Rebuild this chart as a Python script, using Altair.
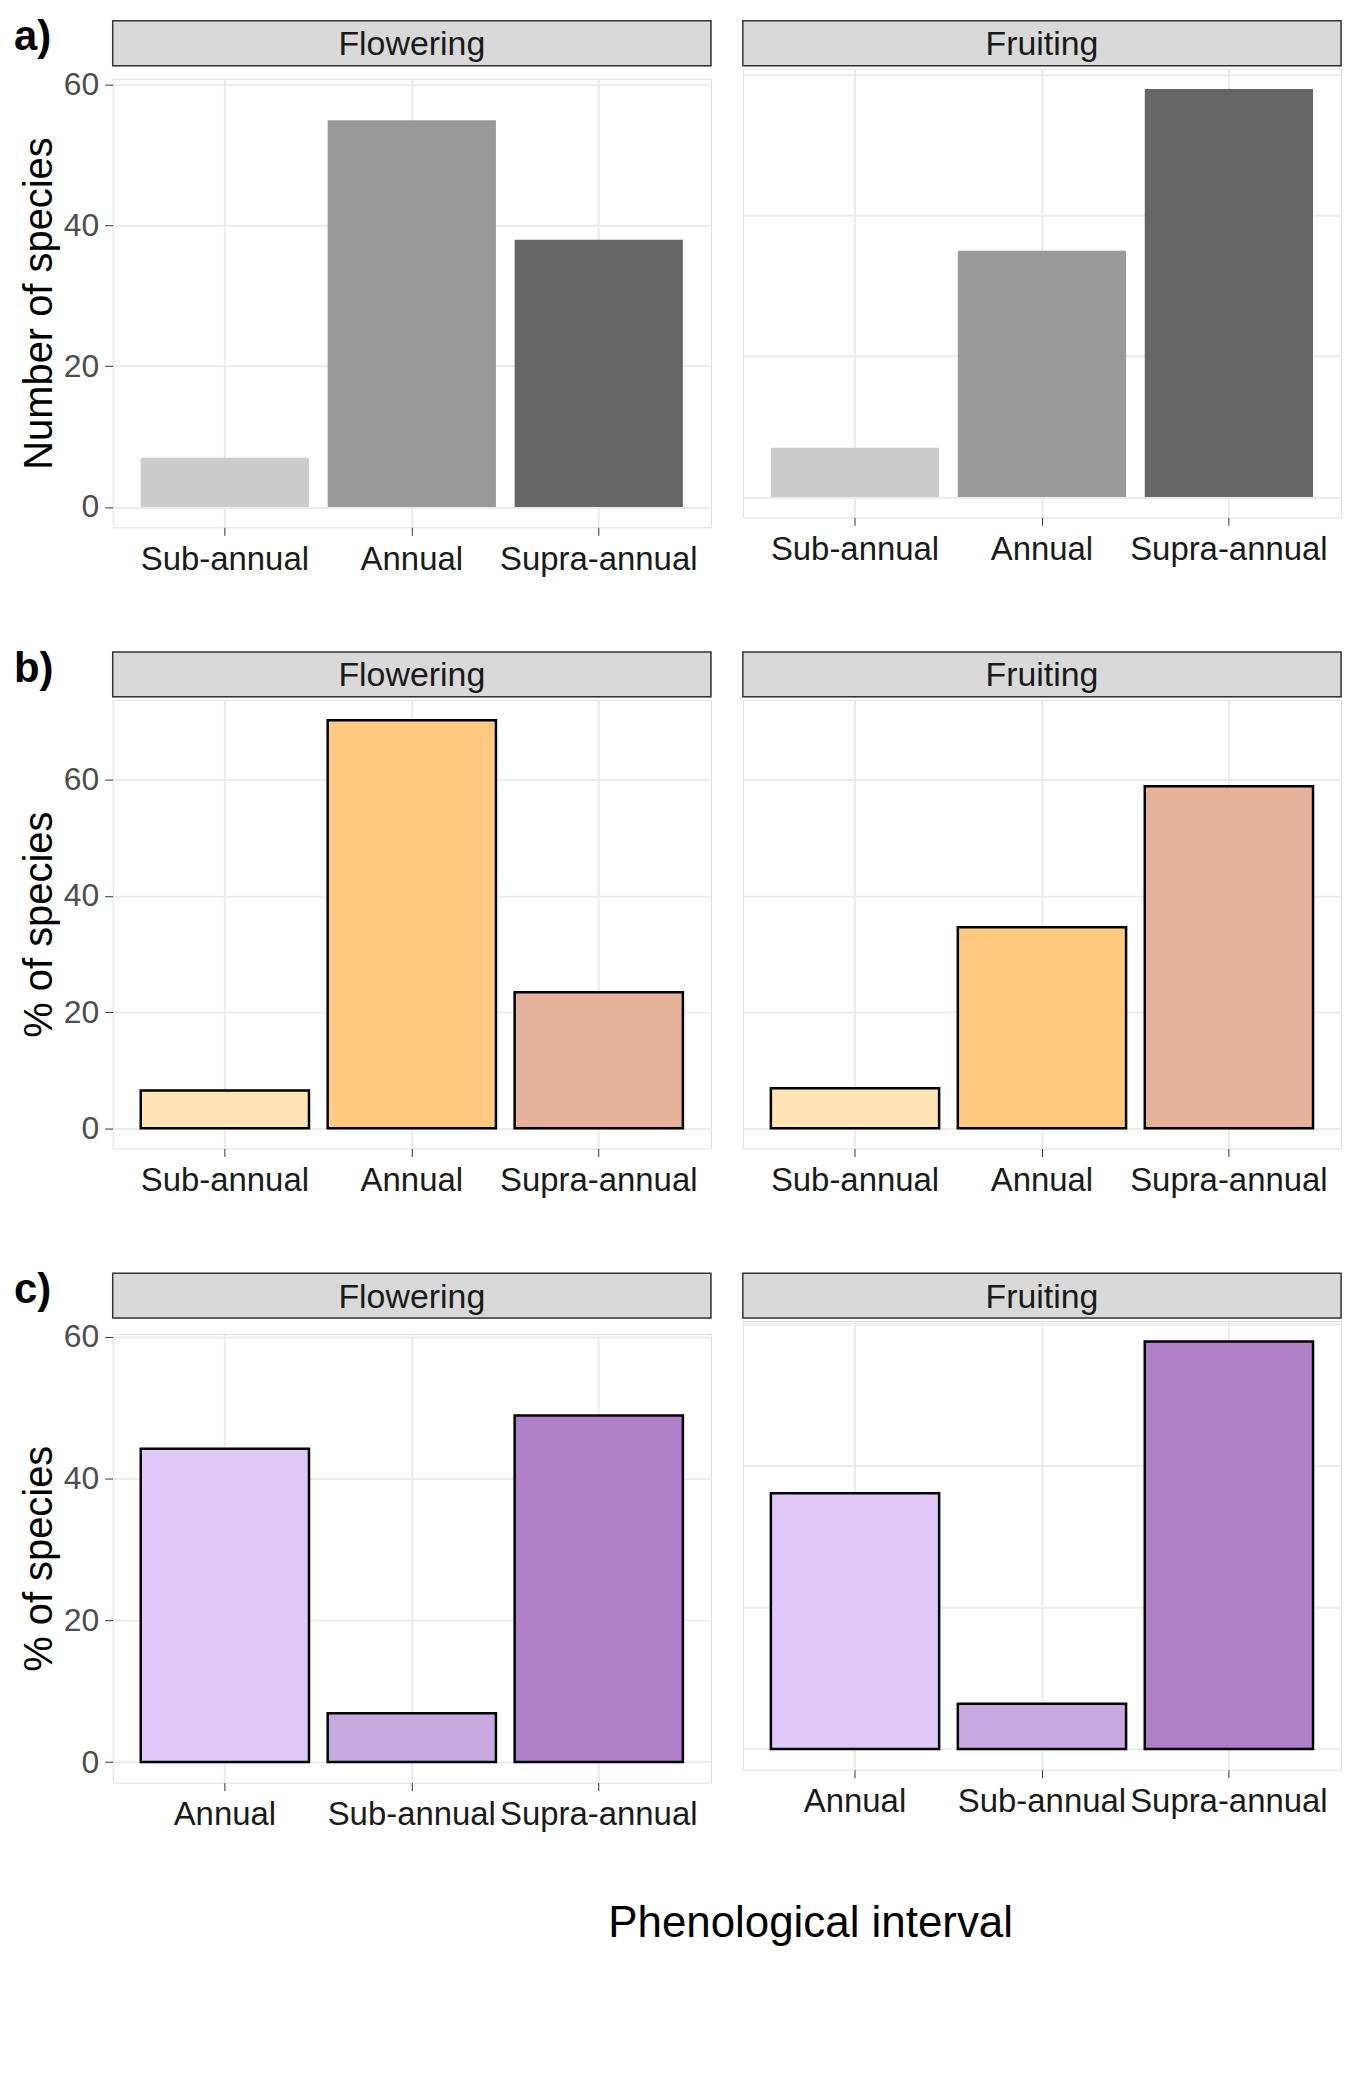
import pandas as pd
import altair as alt

intervals_ab = ['Sub-annual', 'Annual', 'Supra-annual']
intervals_c = ['Annual', 'Sub-annual', 'Supra-annual']

# panel a: number of species
a_flowering = [7, 55, 38]
a_fruiting = [7, 35, 58]
# panel b: % of species
b_flowering = [6.5, 70.3, 23.4]
b_fruiting = [6.9, 34.6, 58.9]
# panel c: % of species
c_flowering = [44.2, 6.9, 48.9]
c_fruiting = [36.1, 6.4, 57.5]

gray_colors = ['#CCCCCC', '#999999', '#666666']
orange_colors = ['#FFE5B4', '#FFCA80', '#E5B199']
purple_colors = ['#E0C8F8', '#C9A9E2', '#B080CB']

W, H, SH = 600, 450, 45
FONT = 'Liberation Sans'


def strip(name):
    base = alt.Chart(pd.DataFrame({'t': [name]}))
    rect = base.mark_rect(fill='#D9D9D9', stroke='#333333', strokeWidth=1.5).encode(
        x=alt.value(0), x2=alt.value(W), y=alt.value(0), y2=alt.value(SH))
    txt = base.mark_text(fontSize=34, font=FONT, color='#1A1A1A').encode(
        x=alt.value(W / 2), y=alt.value(SH / 2 + 2), text='t:N')
    return alt.layer(rect, txt).properties(width=W, height=SH)


def panel(name, cats, vals, colors, domain, ytitle, left, outline):
    df = pd.DataFrame({'cat': cats, 'val': vals})
    yaxis = alt.Axis(values=[0, 20, 40, 60], title=ytitle if left else None,
                     labels=left, ticks=left, labelFontSize=32, titleFontSize=40,
                     labelFont=FONT, titleFont=FONT, labelColor='#4D4D4D',
                     titleColor='black', titleFontWeight='normal',
                     gridColor='#EBEBEB', gridWidth=2, domain=False,
                     tickColor='#333333', tickSize=8, labelPadding=6)
    bars = alt.Chart(df).mark_bar(
        stroke='black' if outline else None,
        strokeWidth=2.5 if outline else 0).encode(
        x=alt.X('cat:N', sort=cats,
                scale=alt.Scale(paddingInner=0.1, paddingOuter=0.15),
                axis=alt.Axis(title=None, labelAngle=0, labelFontSize=33,
                              labelFont=FONT, labelColor='#1A1A1A',
                              labelLimit=0, labelOverlap=False,
                              gridColor='#EBEBEB', gridWidth=2, grid=True,
                              domain=False, tickColor='#333333', tickSize=8,
                              bandPosition=0.5, labelPadding=8)),
        y=alt.Y('val:Q', scale=alt.Scale(domain=domain, nice=False, zero=False),
                axis=yaxis),
        y2=alt.datum(0),
        color=alt.Color('cat:N', sort=cats,
                        scale=alt.Scale(domain=cats, range=colors), legend=None),
    ).properties(width=W, height=H)
    return alt.vconcat(strip(name), bars, spacing=0)


def row(label, cats, fl, fr, colors, domain, ytitle, outline):
    r = alt.hconcat(
        panel('Flowering', cats, fl, colors, domain, ytitle, True, outline),
        panel('Fruiting', cats, fr, colors, domain, ytitle, False, outline),
        spacing=28).resolve_scale(color='independent', y='independent', x='independent')
    return r.properties(title=alt.TitleParams(label, anchor='start', fontSize=42,
                                              font=FONT, fontWeight='bold',
                                              offset=-40, dx=-5))


ra = row('a)', intervals_ab, a_flowering, a_fruiting, gray_colors,
         [-2.9, 60.9], 'Number of species', False)
rb = row('b)', intervals_ab, b_flowering, b_fruiting, orange_colors,
         [-3.5, 73.8], '% of species', True)
rc = row('c)', intervals_c, c_flowering, c_fruiting, purple_colors,
         [-2.9, 60.4], '% of species', True)

xtitle = alt.Chart(pd.DataFrame({'t': ['Phenological interval']})).mark_text(
    fontSize=44, font=FONT, color='black').encode(
    x=alt.value(700), y=alt.value(20), text='t:N').properties(width=1250, height=40,
                                                               view=alt.ViewConfig(stroke=None))

chart = alt.vconcat(ra, rb, rc, xtitle, spacing=70).resolve_scale(
    color='independent', y='independent', x='independent').configure_view(
    stroke='#333333', strokeWidth=2).configure_concat(spacing=0).configure(background='white')

chart.save("out.html", embed_options={"renderer": "svg", "actions": False})
